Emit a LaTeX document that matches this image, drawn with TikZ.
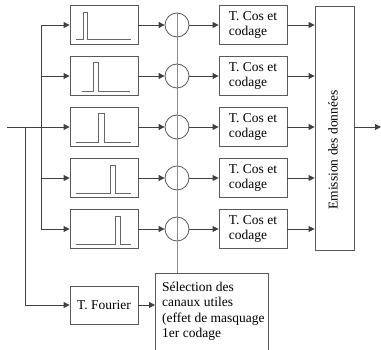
\documentclass[tikz,border=0pt]{standalone}
\usepackage{fontspec}
\setmainfont{Liberation Serif}
\usetikzlibrary{arrows.meta,calc}
\begin{document}
\begin{tikzpicture}[x=1pt,y=-1pt,
  box/.style={draw=black!65, line width=0.9pt, minimum width=68pt, minimum height=39pt, inner sep=0pt},
  txt/.style={font=\fontsize{13.5}{15.5}\selectfont, align=left},
  ln/.style={draw=black!75, line width=0.9pt},
  con/.style={ln, -{Triangle[length=6pt,width=6pt]}},
  bus/.style={draw=black!45, line width=0.9pt},
  pulse/.style={draw=black!60, line width=0.9pt},
  sum/.style={circle, draw=black!65, line width=0.8pt, minimum size=24pt, inner sep=0pt}]
\useasboundingbox (0,0) rectangle (381,350);
\clip (0,0) rectangle (381,350);
% filter boxes, summing circles, cosine boxes
\foreach \i/\y in {1/25,2/76,3/127,4/178,5/229}{
  \node[box] (f\i) at (104,\y) {};
  \node[sum] (c\i) at (177,\y) {};
  \node[box, txt] (k\i) at (253,\y) {T. Cos et\\codage};
}
% pulses
\draw[pulse, shift={(f1.center)}] (-28,14) -- (-21,14) -- (-21,-13) -- (-17,-13) -- (-17,14) -- (27,14);
\draw[pulse, shift={(f2.center)}] (-22,15) -- (-11,15) -- (-11,-14) -- (-6,-14) -- (-6,15) -- (26,15);
\draw[pulse, shift={(f3.center)}] (-28,15) -- (-6,15) -- (-6,-14) -- (0,-14) -- (0,15) -- (27,15);
\draw[pulse, shift={(f4.center)}] (-28,15) -- (6,15) -- (6,-13) -- (11,-13) -- (11,15) -- (27,15);
\draw[pulse, shift={(f5.center)}] (-28,15) -- (11,15) -- (11,-13) -- (16,-13) -- (16,15) -- (27,15);
% emission box
\node[box, minimum width=39pt, minimum height=244pt] (em) at (334.5,128) {};
\node[txt, rotate=90] (emt) at (333,150) {Emission des données};
% Fourier and selection
\node[box, txt, minimum height=38pt] (four) at (104,305) {T. Fourier};
\node[draw=black!65, line width=0.9pt, anchor=north west, minimum width=113pt, minimum height=95pt, inner sep=0pt] (sel) at (155,273) {};
\node[txt, anchor=north west, inner sep=0pt] (selt) at (162,281.5) {Sélection des\\canaux utiles\\(effet de masquage\\1er codage};
% coordinates
\coordinate (in) at (7,127);
\coordinate (tk) at (41,0);
\coordinate (tf) at (25,0);
\coordinate (out) at (381,127);
% connectors
\draw[bus] (c1.north) -- (c1.north |- sel.north);
\draw[con] (in) -- (f3.west);
\draw[ln] (tk |- f1.west) -- (tk |- f5.west);
\foreach \i in {1,2,4,5}{ \draw[con] (tk |- f\i.west) -- (f\i.west); }
\foreach \i in {1,...,5}{
  \draw[con] (f\i.east) -- (c\i.west);
  \draw[con] (c\i.east) -- (k\i.west);
  \draw[con] (k\i.east) -- (k\i.east -| em.west);
}
\draw[con] (tf |- in) |- (four.west);
\draw[con] (four.east) -- (four.east -| sel.west);
\draw[con] (em.east |- out) -- (out);
\end{tikzpicture}
\end{document}
